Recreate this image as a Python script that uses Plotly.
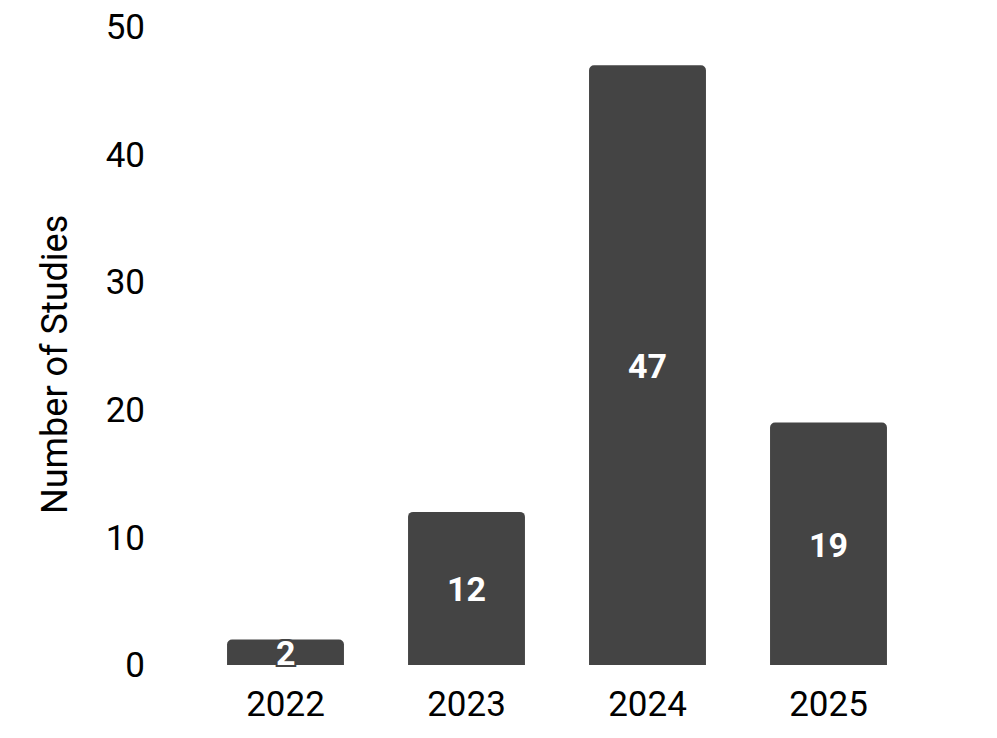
import plotly.graph_objects as go

years = ["2022", "2023", "2024", "2025"]
counts = [2, 12, 47, 19]
y_ticks = [0, 10, 20, 30, 40, 50]
y_title = "Number of Studies"

BAR_COLOR = "#444444"
FONT = "Roboto"

outline = ", ".join(
    f"{dx}px {dy}px 0 {BAR_COLOR}" for dx in (-2, 0, 2) for dy in (-2, 0, 2) if dx or dy
)

L, R, T, B = 187, 86, 19, 81
W, H = 997, 738
PW, PH = W - L - R, H - T - B

fig = go.Figure()
fig.add_trace(
    go.Bar(
        x=years,
        y=counts,
        marker=dict(color=BAR_COLOR, cornerradius=5, line=dict(width=0)),
        hoverinfo="skip",
    )
)

annotations = [
    dict(
        x=i,
        y=c / 2,
        xref="x",
        yref="y",
        text=str(c),
        showarrow=False,
        yshift=-1,
        font=dict(family=FONT, size=34, color="white", weight="bold", shadow=outline),
    )
    for i, c in enumerate(counts)
]
annotations.append(
    dict(
        text=y_title,
        textangle=-90,
        xref="paper",
        yref="paper",
        x=(47 - L) / PW,
        y=(H - B - 357) / PH,
        xanchor="center",
        yanchor="middle",
        showarrow=False,
        font=dict(family=FONT, size=36, color="black"),
    )
)

fig.update_layout(
    width=W,
    height=H,
    margin=dict(l=L, r=R, t=T, b=B, autoexpand=False),
    plot_bgcolor="white",
    paper_bgcolor="white",
    bargap=0.354,
    showlegend=False,
    font=dict(family=FONT, color="black", size=35),
    annotations=annotations,
)
fig.update_xaxes(
    type="category",
    categoryorder="array",
    categoryarray=years,
    showgrid=False,
    showline=False,
    zeroline=False,
    ticks="",
    tickfont=dict(size=35, family=FONT),
    ticklabelstandoff=15,
    automargin=False,
)
fig.update_yaxes(
    range=[0, 50],
    tickvals=y_ticks,
    showgrid=False,
    showline=False,
    zeroline=False,
    ticks="",
    tickfont=dict(size=35, family=FONT),
    ticklabelstandoff=49,
    ticklabeloverflow="allow",
    automargin=False,
)

fig.write_html("out.html")
